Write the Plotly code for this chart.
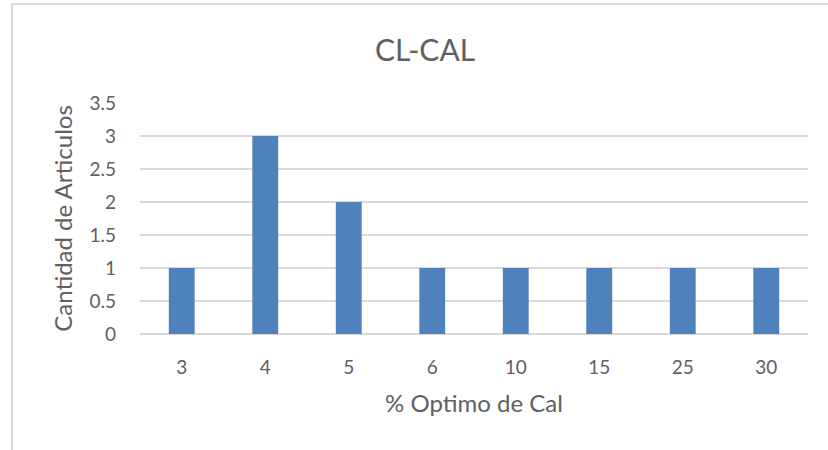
import plotly.graph_objects as go

# Porcentaje óptimo de cal y cantidad de artículos por categoría
categorias = ["3", "4", "5", "6", "10", "15", "25", "30"]
articulos = [1, 3, 2, 1, 1, 1, 1, 1]

TEXT = "#606060"
GRID = "#d9d9d9"
BAR = "#4f81bd"
FONT = "Lato, Carlito, 'Open Sans', sans-serif"

fig = go.Figure(
    go.Bar(
        x=categorias,
        y=articulos,
        marker=dict(color=BAR, line=dict(width=0)),
        hoverinfo="x+y",
    )
)

W, H = 828, 450
L, R, T, B = 140, 20, 103, 116

fig.update_layout(
    width=W,
    height=H,
    margin=dict(l=L, r=R, t=T, b=B, pad=0),
    paper_bgcolor="white",
    plot_bgcolor="white",
    bargap=0.69,
    showlegend=False,
    font=dict(family=FONT, color=TEXT, size=19),
    title=dict(
        text="CL-CAL",
        x=425 / W,
        xanchor="center",
        y=1 - 50 / H,
        yanchor="middle",
        font=dict(size=30, color=TEXT, family=FONT),
    ),
    xaxis=dict(
        type="category",
        showgrid=False,
        showline=False,
        ticks="",
        tickfont=dict(size=19, color=TEXT),
        ticklabelstandoff=20,
        title=dict(text="% Optimo de Cal", font=dict(size=24, color=TEXT), standoff=18),
    ),
    yaxis=dict(
        range=[0, 3.5],
        tickvals=[0, 0.5, 1, 1.5, 2, 2.5, 3, 3.5],
        ticktext=["0", "0.5", "1", "1.5", "2", "2.5", "3", "3.5"],
        showgrid=True,
        gridcolor=GRID,
        gridwidth=2,
        zeroline=True,
        zerolinecolor=GRID,
        zerolinewidth=2,
        showline=False,
        ticks="",
        tickfont=dict(size=19, color=TEXT),
        ticklabelstandoff=23,
        title=dict(text="Cantidad de Articulos", font=dict(size=24, color=TEXT), standoff=10),
    ),
)

# Chart frame: left and top edges of the surrounding border
pw, ph = W - L - R, H - T - B
x_left = (12 - L) / pw
y_top = (H - B - 4) / ph
x_right = (W - L + 10) / pw
fig.add_shape(type="line", xref="paper", yref="paper",
              x0=x_left, x1=x_left, y0=y_top, y1=-B / ph - 0.1,
              line=dict(color="#d9d9d9", width=2))
fig.add_shape(type="line", xref="paper", yref="paper",
              x0=x_left, x1=x_right, y0=y_top, y1=y_top,
              line=dict(color="#d9d9d9", width=2))

fig.write_html("out.html")
